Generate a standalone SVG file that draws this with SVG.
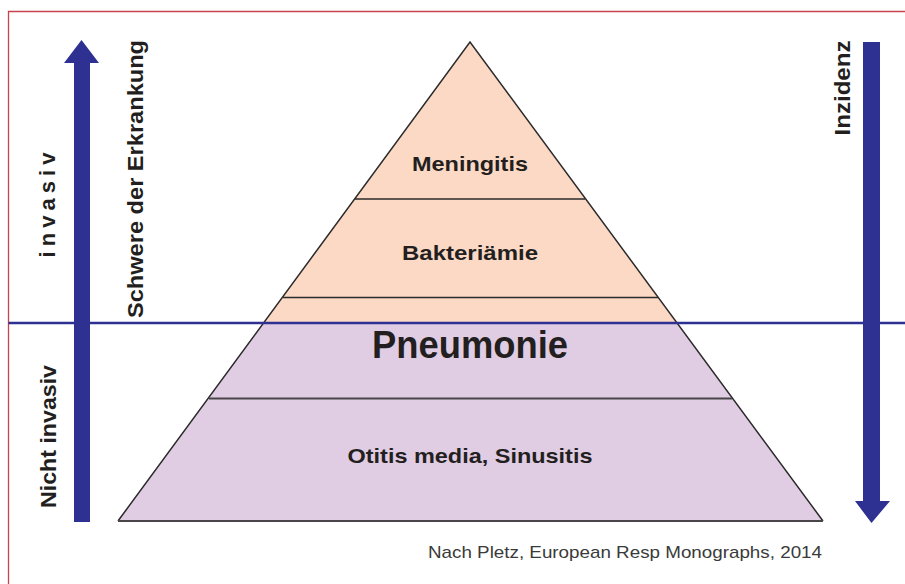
<svg xmlns="http://www.w3.org/2000/svg" width="905" height="584" viewBox="0 0 905 584">
<style>
.lbl{font-family:"Liberation Sans",Arial,sans-serif;font-weight:bold;fill:#231F20;text-anchor:middle}
.div{stroke:#2B2A2A;stroke-width:1.5;fill:none}
.arrow{fill:#2E3192}
.note{font-family:"Liberation Sans",Arial,sans-serif;fill:#3A3A3A;font-size:17px;text-anchor:end}
</style>
<rect width="905" height="584" fill="#ffffff"/>
<path d="M8.5 584 V11.5 H905" fill="none" stroke="#C8414B" stroke-width="1.3"/>
<g id="pyramid">
<polygon points="470,42 263.5,323 677,323" fill="#FCD9C5"/>
<polygon points="263.5,323 677,323 823,521 118,521" fill="#E0CCE3"/>
<polyline class="div" points="118,521 470,42 823,521"/>
<line x1="118" y1="521" x2="823" y2="521" stroke="#4A4548" stroke-width="2"/>
</g>
<g id="layer-meningitis">
<line class="div" x1="355" y1="199" x2="585" y2="199"/>
<text class="lbl" x="470" y="171" font-size="21" textLength="116" lengthAdjust="spacingAndGlyphs">Meningitis</text>
</g>
<g id="layer-bakteriaemie">
<line class="div" x1="283" y1="297.5" x2="658" y2="297.5"/>
<text class="lbl" x="470" y="260" font-size="21" textLength="136" lengthAdjust="spacingAndGlyphs">Bakteriämie</text>
</g>
<g id="layer-pneumonie">
<text class="lbl" x="470" y="358" font-size="38" textLength="196" lengthAdjust="spacingAndGlyphs">Pneumonie</text>
</g>
<g id="layer-otitis">
<line x1="209" y1="398.5" x2="732" y2="398.5" stroke="#4A4548" stroke-width="1.8"/>
<text class="lbl" x="470" y="463" font-size="21" textLength="245" lengthAdjust="spacingAndGlyphs">Otitis media, Sinusitis</text>
</g>
<g id="divider">
<line x1="8.5" y1="323" x2="905" y2="323" stroke="#2E3192" stroke-width="2.5"/>
</g>
<g id="arrow-schwere">
<polygon class="arrow" points="74,522 90,522 90,63 99,63 81.5,40 64,63 74,63"/>
<text class="lbl" transform="translate(143,179) rotate(-90)" font-size="22" textLength="278" lengthAdjust="spacingAndGlyphs">Schwere der Erkrankung</text>
</g>
<g id="arrow-inzidenz">
<polygon class="arrow" points="863,42 880,42 880,501 890,501 871.5,523 855,501 863,501"/>
<text class="lbl" transform="translate(850,88) rotate(-90)" font-size="22" textLength="95" lengthAdjust="spacingAndGlyphs">Inzidenz</text>
</g>
<g id="label-invasiv">
<text class="lbl" transform="translate(55,205) rotate(-90)" font-size="22" textLength="105" lengthAdjust="spacing">i n v a s i v</text>
</g>
<g id="label-nicht-invasiv">
<text class="lbl" transform="translate(56,436.5) rotate(-90)" font-size="22" textLength="143" lengthAdjust="spacingAndGlyphs">Nicht invasiv</text>
</g>
<text class="note" x="822" y="558" textLength="394" lengthAdjust="spacingAndGlyphs">Nach Pletz, European Resp Monographs, 2014</text>
</svg>
